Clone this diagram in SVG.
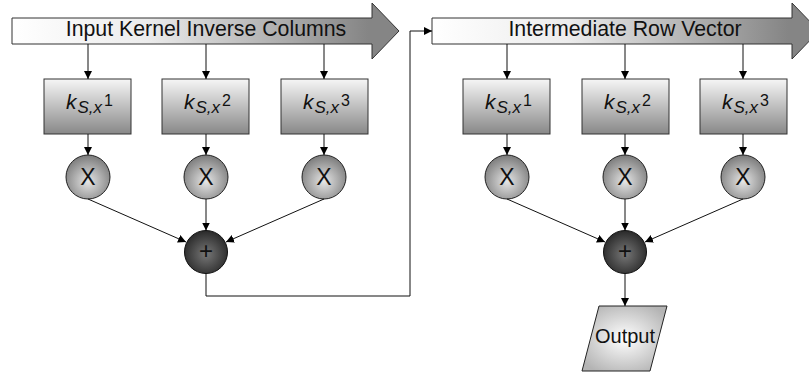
<svg xmlns="http://www.w3.org/2000/svg" width="809" height="373" viewBox="0 0 809 373">
<defs>
<linearGradient id="gArrow" x1="0" y1="0" x2="1" y2="0">
<stop offset="0" stop-color="#ffffff"/>
<stop offset="0.35" stop-color="#ececec"/>
<stop offset="0.92" stop-color="#858585"/>
<stop offset="1" stop-color="#858585"/>
</linearGradient>
<linearGradient id="gBox" x1="0" y1="0" x2="0" y2="1">
<stop offset="0" stop-color="#f6f6f6"/>
<stop offset="1" stop-color="#888888"/>
</linearGradient>
<radialGradient id="gMul" cx="0.5" cy="0.6" r="0.6">
<stop offset="0" stop-color="#e6e6e6"/>
<stop offset="1" stop-color="#7a7a7a"/>
</radialGradient>
<radialGradient id="gSum" cx="0.5" cy="0.55" r="0.6">
<stop offset="0" stop-color="#777777"/>
<stop offset="1" stop-color="#222222"/>
</radialGradient>
<radialGradient id="gOut" cx="0.5" cy="0.5" r="0.6">
<stop offset="0" stop-color="#ffffff"/>
<stop offset="1" stop-color="#b4b4b4"/>
</radialGradient>
<marker id="ah" viewBox="0 0 10 10" refX="10" refY="5" markerWidth="8" markerHeight="8" markerUnits="userSpaceOnUse" orient="auto">
<path d="M0,0 L10,5 L0,10 z" fill="#000"/>
</marker>
</defs>
<style>
.arrow{fill:url(#gArrow);stroke:#333;stroke-width:1}
.box{fill:url(#gBox);stroke:#333;stroke-width:1}
.mul{fill:url(#gMul);stroke:#222;stroke-width:1}
.sum{fill:url(#gSum);stroke:#111;stroke-width:1}
.out{fill:url(#gOut);stroke:#222;stroke-width:1}
.t{font-family:"Liberation Sans",Arial,sans-serif;fill:#111}
.big{font-size:21.3px}
.lab{font-size:21px;font-style:italic}
.sub{font-size:17px;font-style:italic}
.sup{font-size:16px;font-style:normal}
.op{font-size:23px}
.pl{font-size:24px}
.conn line,.conn polyline{stroke:#111;stroke-width:1;fill:none;marker-end:url(#ah)}
</style>

<g id="arrow-input">
<polygon class="arrow" points="12,18 372,18 372,3 399,31 372,59 372,44 12,44"/>
<text class="t big" x="206" y="36" text-anchor="middle">Input Kernel Inverse Columns</text>
</g>
<g id="arrow-intermediate">
<polygon class="arrow" points="432,18 792,18 792,3 819,31 792,59 792,44 432,44"/>
<text class="t big" x="625" y="36" text-anchor="middle">Intermediate Row Vector</text>
</g>

<g id="box-l1"><rect class="box" x="44" y="79" width="87" height="55"/>
<text class="t" x="66" y="109"><tspan class="lab">k</tspan><tspan class="sub" dx="1" dy="4">S,x</tspan><tspan class="sup" dx="2" dy="-7">1</tspan></text></g>
<g id="box-l2"><rect class="box" x="162" y="79" width="87" height="55"/>
<text class="t" x="184" y="109"><tspan class="lab">k</tspan><tspan class="sub" dx="1" dy="4">S,x</tspan><tspan class="sup" dx="2" dy="-7">2</tspan></text></g>
<g id="box-l3"><rect class="box" x="281" y="79" width="87" height="55"/>
<text class="t" x="303" y="109"><tspan class="lab">k</tspan><tspan class="sub" dx="1" dy="4">S,x</tspan><tspan class="sup" dx="2" dy="-7">3</tspan></text></g>

<g id="box-r1"><rect class="box" x="463" y="79" width="87" height="55"/>
<text class="t" x="485" y="109"><tspan class="lab">k</tspan><tspan class="sub" dx="1" dy="4">S,x</tspan><tspan class="sup" dx="2" dy="-7">1</tspan></text></g>
<g id="box-r2"><rect class="box" x="582" y="79" width="87" height="55"/>
<text class="t" x="604" y="109"><tspan class="lab">k</tspan><tspan class="sub" dx="1" dy="4">S,x</tspan><tspan class="sup" dx="2" dy="-7">2</tspan></text></g>
<g id="box-r3"><rect class="box" x="700" y="79" width="87" height="55"/>
<text class="t" x="722" y="109"><tspan class="lab">k</tspan><tspan class="sub" dx="1" dy="4">S,x</tspan><tspan class="sup" dx="2" dy="-7">3</tspan></text></g>

<g id="mul-l1"><circle class="mul" cx="88" cy="177" r="22"/><text class="t op" x="88" y="185" text-anchor="middle">X</text></g>
<g id="mul-l2"><circle class="mul" cx="206" cy="177" r="22"/><text class="t op" x="206" y="185" text-anchor="middle">X</text></g>
<g id="mul-l3"><circle class="mul" cx="324" cy="177" r="22"/><text class="t op" x="324" y="185" text-anchor="middle">X</text></g>
<g id="mul-r1"><circle class="mul" cx="507" cy="177" r="22"/><text class="t op" x="507" y="185" text-anchor="middle">X</text></g>
<g id="mul-r2"><circle class="mul" cx="625" cy="177" r="22"/><text class="t op" x="625" y="185" text-anchor="middle">X</text></g>
<g id="mul-r3"><circle class="mul" cx="743" cy="177" r="22"/><text class="t op" x="743" y="185" text-anchor="middle">X</text></g>

<g id="sum-l"><circle class="sum" cx="206" cy="252" r="21.5"/><text class="t pl" x="206" y="259" text-anchor="middle">+</text></g>
<g id="sum-r"><circle class="sum" cx="625" cy="252" r="21.5"/><text class="t pl" x="625" y="259" text-anchor="middle">+</text></g>

<g id="output"><polygon class="out" points="599,306 667,306 650,371 582,371"/>
<text class="t" font-size="20" x="625" y="343" text-anchor="middle">Output</text></g>

<g id="connectors" class="conn">
<line x1="88" y1="44" x2="88" y2="79"/>
<line x1="206" y1="44" x2="206" y2="79"/>
<line x1="324" y1="44" x2="324" y2="79"/>
<line x1="507" y1="44" x2="507" y2="79"/>
<line x1="625" y1="44" x2="625" y2="79"/>
<line x1="743" y1="44" x2="743" y2="79"/>
<line x1="88" y1="134" x2="88" y2="155"/>
<line x1="206" y1="134" x2="206" y2="155"/>
<line x1="324" y1="134" x2="324" y2="155"/>
<line x1="507" y1="134" x2="507" y2="155"/>
<line x1="625" y1="134" x2="625" y2="155"/>
<line x1="743" y1="134" x2="743" y2="155"/>
<line x1="88" y1="199" x2="186" y2="242"/>
<line x1="206" y1="199" x2="206" y2="230.5"/>
<line x1="324" y1="199" x2="226" y2="242"/>
<line x1="507" y1="199" x2="605" y2="242"/>
<line x1="625" y1="199" x2="625" y2="230.5"/>
<line x1="743" y1="199" x2="645" y2="242"/>
<polyline points="206,273.5 206,296 410,296 410,31 432,31"/>
<line x1="625" y1="273.5" x2="625" y2="306"/>
</g>
</svg>
